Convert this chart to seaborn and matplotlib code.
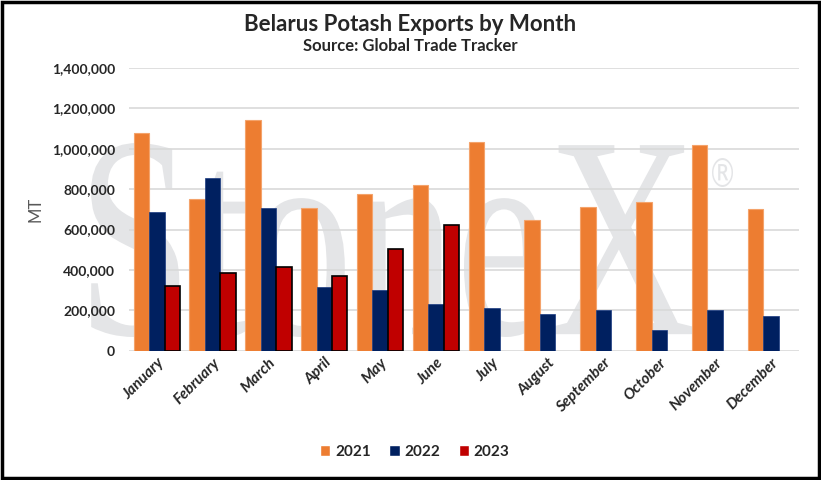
import pandas as pd
import matplotlib.pyplot as plt
import seaborn as sns
from matplotlib.patches import Rectangle, PathPatch
from matplotlib.textpath import TextPath
from matplotlib.font_manager import FontProperties
from matplotlib.transforms import Affine2D
from matplotlib.ticker import FuncFormatter

# Monthly exports, metric tonnes
months = ["January", "February", "March", "April", "May", "June",
          "July", "August", "September", "October", "November", "December"]
exports_2021 = [1075000, 751000, 1143000, 705000, 776000, 818000,
                1034000, 647000, 713000, 737000, 1019000, 701000]
exports_2022 = [685000, 853000, 705000, 315000, 301000, 231000,
                214000, 181000, 201000, 102000, 201000, 171000]
exports_2023 = [323000, 384000, 413000, 369000, 506000, 624000,
                None, None, None, None, None, None]
years = ["2021", "2022", "2023"]

W, H = 821, 480


def stretched_text(fig, s, family, box, color):
    # text squeezed into a pixel box (x0, top, x1, bottom), like the logo
    path = TextPath((0, 0), s, size=100, prop=FontProperties(family=family))
    bb = path.get_extents()
    x0, top, x1, bottom = box
    tr = (Affine2D().translate(-bb.x0, -bb.y0)
          .scale((x1 - x0) / bb.width, (bottom - top) / bb.height)
          .translate(x0, H - bottom).scale(1 / W, 1 / H)) + fig.transFigure
    return PathPatch(path, transform=tr, facecolor=color, edgecolor="none",
                     zorder=0.2, clip_on=False)


def make_chart():
    rows = []
    for year, vals in zip(years, [exports_2021, exports_2022, exports_2023]):
        for m, v in zip(months, vals):
            rows.append({"month": m, "year": year, "mt": v})
    df = pd.DataFrame(rows)

    sns.set_theme(style="white")
    plt.rcParams["font.family"] = ["Lato", "DejaVu Sans"]

    fig = plt.figure(figsize=(W / 100, H / 100), dpi=100)
    ax = fig.add_axes([0.157, 0.269, 0.816, 0.590])
    ax.set_facecolor("none")

    # StoneX watermark behind grid and bars
    wm = "#e4e5e7"
    ax.add_patch(stretched_text(fig, "StoneX", "Liberation Serif", (91, 143, 693, 337), wm))
    ax.add_patch(stretched_text(fig, "\u00ae", "DejaVu Sans", (712, 158, 733, 187), wm))

    palette = {"2021": "#ED7D31", "2022": "#002060", "2023": "#C00000"}
    sns.barplot(data=df, x="month", y="mt", hue="year", order=months,
                hue_order=years, palette=palette, width=0.83, errorbar=None,
                saturation=1, ax=ax, zorder=3)

    edge = {"2021": ("#F4A36B", 0.8), "2022": ("#1a3a80", 0.5), "2023": ("black", 1.2)}
    for cont, year in zip(ax.containers, years):
        for bar in cont:
            bar.set_edgecolor(edge[year][0])
            bar.set_linewidth(edge[year][1])

    ax.set_ylim(0, 1400000)
    ax.set_xlim(-0.5, 11.5)
    ax.set_yticks(range(0, 1400001, 200000))
    ax.yaxis.set_major_formatter(FuncFormatter(lambda v, p: f"{int(v):,}"))
    ax.set_axisbelow(True)
    ax.grid(axis="y", color="#d9d9d9", linewidth=1.2)
    for s in ax.spines.values():
        s.set_visible(False)
    ax.tick_params(axis="both", length=0)
    ax.tick_params(axis="y", pad=10)

    for lab in ax.get_yticklabels():
        lab.set_fontweight("bold")
        lab.set_fontsize(10)
    ax.set_xticks(range(len(months)))
    ax.set_xticklabels(months, rotation=45, ha="right", rotation_mode="anchor",
                       fontsize=11, fontweight="bold", fontstyle="italic")
    ax.set_xlabel("")
    ax.set_ylabel("MT", fontsize=12, color="#595959", labelpad=6)

    fig.text(0.5, 0.935, "Belarus Potash Exports by Month", ha="center",
             fontsize=16, fontweight="bold")
    fig.text(0.5, 0.893, "Source: Global Trade Tracker", ha="center",
             fontsize=12, fontweight="bold")

    ax.legend(loc="center", bbox_to_anchor=(0.505, 0.058),
              bbox_transform=fig.transFigure, ncol=3, frameon=False,
              handlelength=0.7, handleheight=0.7, handletextpad=0.3,
              columnspacing=1.2, prop={"weight": "bold", "size": 11})

    # black frame round the figure
    fig.patches.append(Rectangle((0.003, 0.004), 0.994, 0.992, transform=fig.transFigure,
                                 fill=False, edgecolor="black", linewidth=2.5))

    fig.savefig("out.png", dpi=100)
    plt.close(fig)


if __name__ == "__main__":
    make_chart()
